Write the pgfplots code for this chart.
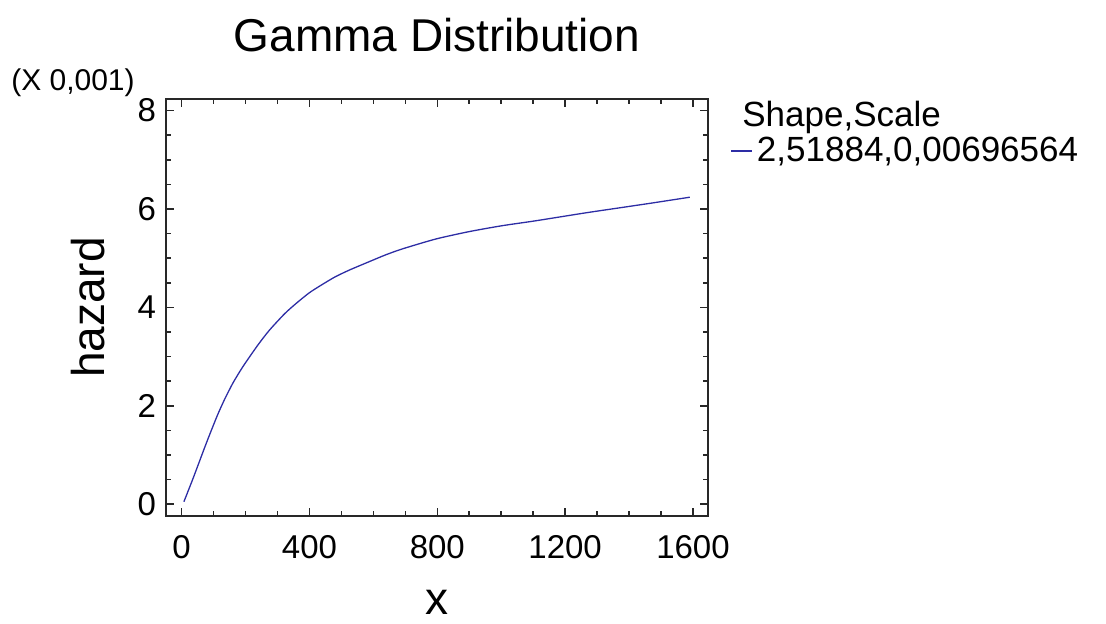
\documentclass[border=0pt]{standalone}
\usepackage{pgfplots}
\pgfplotsset{compat=1.18}
\usepackage{fontspec}
\setmainfont{Liberation Sans}

\definecolor{curveblue}{RGB}{45,45,165}
\definecolor{framegray}{RGB}{40,40,40}

\begin{document}
\begin{tikzpicture}
	\path[use as bounding box] (0,0) rectangle (553pt,311.5pt);
	\begin{axis}[
			at={(83pt,53.5pt)},
			anchor=south west,
			scale only axis,
			width=271pt,
			height=208.35pt,
			xmin=-49, xmax=1647,
			ymin=-0.24, ymax=8.23,
			xtick={0,400,800,1200,1600},
			ytick={0,2,4,6,8},
			minor x tick num=3,
			minor y tick num=3,
			major tick length=4pt,
			minor tick length=2.5pt,
			tick align=inside,
			axis line style={framegray, line width=1pt},
			every tick/.style={framegray, line width=0.8pt},
			/pgf/number format/assume math mode=true,
			/pgf/number format/set thousands separator={},
			tick label style={font=\fontsize{16.5}{18}\selectfont},
			xticklabel style={yshift=-6pt},
			yticklabel style={xshift=-1.5pt},
			title={Gamma Distribution},
			title style={at={(0.5,1.125)}, anchor=center, font=\fontsize{23}{25}\selectfont},
			xlabel={x},
			xlabel style={at={(0.5,-0.208)}, anchor=center, inner sep=0pt, font=\fontsize{23}{25}\selectfont},
			ylabel={hazard},
			ylabel style={at={(-0.144,0.5)}, anchor=center, inner sep=0pt, font=\fontsize{23}{25}\selectfont},
			legend style={
					at={(1.030,0.876)},
					anchor=west,
					draw=none,
					fill=none,
					font=\fontsize{17.5}{19}\selectfont,
					legend cell align=left,
				},
			legend image code/.code={\draw[#1] (0pt,0pt) -- (10.5pt,0pt);},
			clip=false,
		]

		\addplot[curveblue, line width=0.65pt, no marks, smooth, tension=0.4] coordinates {
    (7, 0.05)
    (36, 0.53)
    (73, 1.17)
    (94, 1.52)
    (114, 1.84)
    (135, 2.14)
    (161, 2.47)
    (192, 2.80)
    (239, 3.24)
    (275, 3.54)
    (322, 3.87)
    (358, 4.08)
    (400, 4.30)
    (441, 4.47)
    (480, 4.62)
    (525, 4.76)
    (587, 4.93)
    (639, 5.07)
    (691, 5.19)
    (795, 5.39)
    (899, 5.54)
    (1002, 5.66)
    (1107, 5.76)
    (1262, 5.92)
    (1366, 6.02)
    (1470, 6.12)
    (1590, 6.24)
		};
		\addlegendentry{2,51884,0,00696564}

		\node[anchor=west, inner sep=0pt, font=\fontsize{17.5}{19}\selectfont]
			at (axis description cs:1.0627,0.957) {Shape,Scale};
		\node[anchor=center, inner sep=0pt, font=\fontsize{15}{17}\selectfont]
			at (axis description cs:-0.1716,1.039) {(X 0,001)};
	\end{axis}
\end{tikzpicture}
\end{document}
